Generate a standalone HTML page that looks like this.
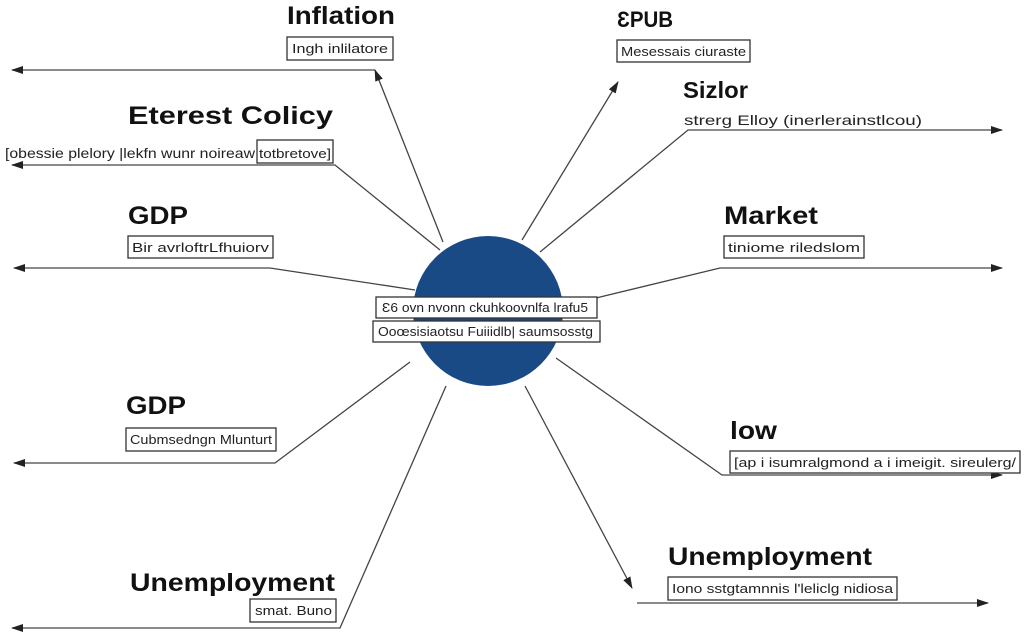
<!DOCTYPE html>
<html><head><meta charset="utf-8"><style>
body{margin:0;background:#fff;}
svg{display:block;font-family:"Liberation Sans",sans-serif;}
.t{font-weight:bold;font-size:25px;fill:#111;}
.s{font-size:13px;fill:#222;}
.b{fill:#fff;stroke:#333;stroke-width:1.3;}
.l{stroke:#444;stroke-width:1.3;fill:none;}
</style></head><body>
<svg width="1024" height="633" viewBox="0 0 1024 633">
<defs><marker id="a" markerWidth="12" markerHeight="8" refX="11" refY="4" orient="auto" markerUnits="userSpaceOnUse"><path d="M0,0L12,4L0,8z" fill="#222"/></marker></defs>
<g class="l">
<path d="M443,242L375,70" marker-end="url(#a)"/><path d="M375,70L12,70" marker-end="url(#a)"/>
<path d="M440,250L335,165L12,165" marker-end="url(#a)"/>
<path d="M415,290L270,268L14,268" marker-end="url(#a)"/>
<path d="M410,362L275,463L14,463" marker-end="url(#a)"/>
<path d="M446,386L340,628L12,628" marker-end="url(#a)"/>
<path d="M522,240L618,82" marker-end="url(#a)"/>
<path d="M540,252L688,130L1002,130" marker-end="url(#a)"/>
<path d="M596,298L720,268L1002,268" marker-end="url(#a)"/>
<path d="M556,358L722,475L1002,475" marker-end="url(#a)"/>
<path d="M525,386L632,588" marker-end="url(#a)"/><path d="M637,603L988,603" marker-end="url(#a)"/>
</g>
<circle cx="488" cy="311" r="75" fill="#1a4a86"/>
<rect class="b" x="376" y="297" width="221" height="21"/><text class="s" x="382" y="312" textLength="206" lengthAdjust="spacingAndGlyphs">Ɛ6 ovn  nvonn ckuhkoovnlfa  lrafu5</text>
<rect class="b" x="373" y="321" width="227" height="21"/><text class="s" x="378" y="336" textLength="215" lengthAdjust="spacingAndGlyphs">Ooœsisiaotsu Fuiiidlb| saumsosstg</text>
<text class="t" x="287" y="24" textLength="108" lengthAdjust="spacingAndGlyphs">Inflation</text>
<rect class="b" x="287" y="37" width="106" height="23"/><text class="s" x="292" y="53" textLength="96" lengthAdjust="spacingAndGlyphs">Ingh inlilatore</text>
<text class="t" x="617" y="27" style="font-size:22px" textLength="56" lengthAdjust="spacingAndGlyphs">ƐPUB</text>
<rect class="b" x="617" y="40" width="133" height="22"/><text class="s" x="621" y="56" textLength="125" lengthAdjust="spacingAndGlyphs">Mesessais ciuraste</text>
<text class="t" x="683" y="98" style="font-size:23px" textLength="65" lengthAdjust="spacingAndGlyphs">Sizlor</text>
<text class="s" x="684" y="125" style="font-size:14px" textLength="238" lengthAdjust="spacingAndGlyphs">strerg Elloy (inerlerainstlcou)</text>
<text class="t" x="128" y="124" textLength="205" lengthAdjust="spacingAndGlyphs">Eterest Colicy</text>
<text class="s" x="5" y="158" style="font-size:14px" textLength="250" lengthAdjust="spacingAndGlyphs">[obessie plelory |lekfn wunr noireaw</text>
<rect class="b" x="257" y="140" width="76" height="23"/><text class="s" x="259" y="158" textLength="72" lengthAdjust="spacingAndGlyphs">totbretove]</text>
<text class="t" x="128" y="224" textLength="60" lengthAdjust="spacingAndGlyphs">GDP</text>
<rect class="b" x="128" y="236" width="145" height="22"/><text class="s" x="132" y="252" textLength="137" lengthAdjust="spacingAndGlyphs">Bir avrloftrLfhuiorv</text>
<text class="t" x="724" y="224" textLength="94" lengthAdjust="spacingAndGlyphs">Market</text>
<rect class="b" x="724" y="236" width="140" height="22"/><text class="s" x="728" y="252" textLength="132" lengthAdjust="spacingAndGlyphs">tiniome riledslom</text>
<text class="t" x="126" y="414" textLength="60" lengthAdjust="spacingAndGlyphs">GDP</text>
<rect class="b" x="126" y="428" width="150" height="23"/><text class="s" x="130" y="444" textLength="142" lengthAdjust="spacingAndGlyphs">Cubmsedngn Mlunturt</text>
<text class="t" x="730" y="439" textLength="47" lengthAdjust="spacingAndGlyphs">low</text>
<rect class="b" x="730" y="451" width="290" height="22"/><text class="s" x="734" y="467" textLength="282" lengthAdjust="spacingAndGlyphs">[ap i isumralgmond a i imeigit. sireulerg/</text>
<text class="t" x="668" y="565" textLength="204" lengthAdjust="spacingAndGlyphs">Unemployment</text>
<rect class="b" x="668" y="577" width="229" height="23"/><text class="s" x="672" y="593" textLength="221" lengthAdjust="spacingAndGlyphs">Iono sstgtamnnis l'leliclg nidiosa</text>
<text class="t" x="130" y="591" textLength="205" lengthAdjust="spacingAndGlyphs">Unemployment</text>
<rect class="b" x="250" y="599" width="86" height="23"/><text class="s" x="255" y="615" textLength="77" lengthAdjust="spacingAndGlyphs">smat. Buno</text>
</svg>
</body></html>
